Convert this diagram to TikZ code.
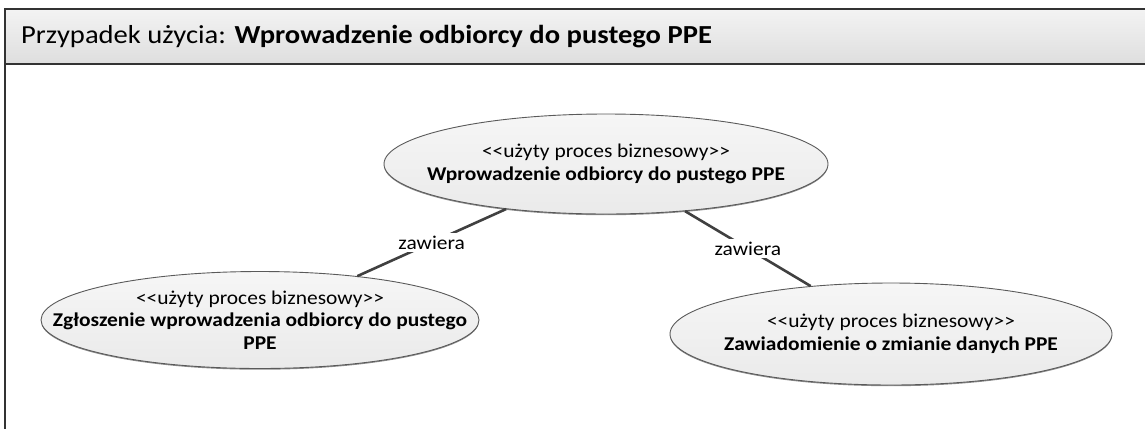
\documentclass[tikz,border=0pt]{standalone}
\usepackage{fontspec}
\setmainfont{Carlito}[FakeStretch=1.1]
\usetikzlibrary{shapes.geometric,shadows}
\definecolor{hdrtop}{HTML}{F3F3F3}
\definecolor{hdrbot}{HTML}{DEDEDE}
\definecolor{elltop}{HTML}{F6F6F6}
\definecolor{ellbot}{HTML}{EAEAEA}
\definecolor{ellborder}{HTML}{5A5A5A}
\definecolor{relcol}{HTML}{404040}
\definecolor{framecol}{HTML}{333333}
\begin{document}
\begin{tikzpicture}[x=1pt,y=-1pt,
  usecase/.style={ellipse, draw=ellborder, line width=0.9pt, top color=elltop, bottom color=ellbot,
    inner sep=0pt,
    drop shadow={shadow xshift=0pt, shadow yshift=-1.2pt, opacity=0.45, fill=black}},
  uctext/.style={align=center, inner sep=0pt, font=\fontsize{19.5}{22.5}\selectfont},
  rel/.style={draw=relcol, line width=2.6pt},
  rellabel/.style={fill=white, inner sep=3pt, font=\fontsize{19.5}{22}\selectfont},
  framestyle/.style={draw=framecol, line width=1.6pt}]
\useasboundingbox (0,0) rectangle (1145,429);
\path[top color=hdrtop, bottom color=hdrbot] (5,9) rectangle (1145,64);
\draw[framestyle] (1145,9) -- (5,9) -- (5,429);
\draw[framestyle] (5,64) -- (1145,64);
\node[anchor=west, inner sep=0pt, font=\fontsize{26}{28}\selectfont] (title) at (21,37)
  {Przypadek użycia: \textbf{Wprowadzenie odbiorcy do pustego PPE}};
\node[usecase, minimum width=444pt, minimum height=100pt] (main) at (606,164) {};
\node[uctext] (maint) at (main.center)
  {<{}<użyty proces biznesowy>{}>\\\textbf{Wprowadzenie odbiorcy do pustego PPE}};
\node[usecase, minimum width=438pt, minimum height=97pt] (left) at (260,320) {};
\node[uctext] (leftt) at (left.center)
  {<{}<użyty proces biznesowy>{}>\\\textbf{Zgłoszenie wprowadzenia odbiorcy do pustego}\\\textbf{PPE}};
\node[usecase, minimum width=442pt, minimum height=102pt] (right) at (891,334) {};
\node[uctext] (rightt) at (right.center)
  {<{}<użyty proces biznesowy>{}>\\\textbf{Zawiadomienie o zmianie danych PPE}};
\draw[rel] (main) -- node[rellabel] (l1) {zawiera} (left);
\draw[rel] (main) -- node[rellabel] (l2) {zawiera} (right);
\end{tikzpicture}
\end{document}
